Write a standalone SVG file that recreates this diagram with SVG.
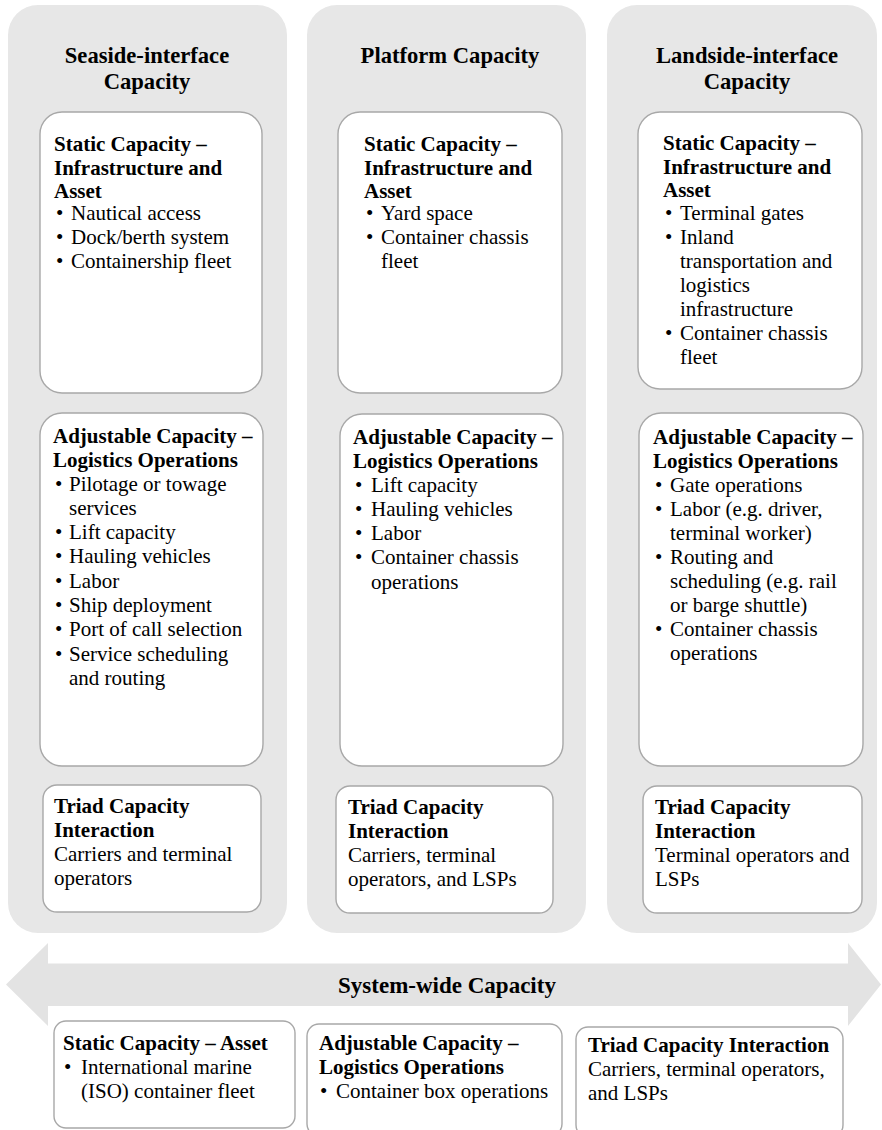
<svg xmlns="http://www.w3.org/2000/svg" width="882" height="1130" viewBox="0 0 882 1130">
<style>
.col{fill:#e7e7e7;}
.box{fill:#ffffff;stroke:#a8a8a8;stroke-width:1.4;}
.arrow{fill:#e3e3e3;}
text{font-family:"Liberation Serif","Times New Roman",serif;fill:#000;}
.h{font-size:22.6px;font-weight:bold;text-anchor:middle;}
.sw{font-size:23px;font-weight:bold;text-anchor:middle;}
.b{font-size:21px;font-weight:bold;}
.t{font-size:21px;}
</style>
<rect width="882" height="1130" fill="#ffffff"/>

<g id="col-seaside">
<rect class="col" x="8" y="5" width="279" height="928" rx="30"/>
<text class="h" x="147" y="63">Seaside-interface</text>
<text class="h" x="147" y="89">Capacity</text>
</g>
<g id="col-platform">
<rect class="col" x="307" y="5" width="279" height="928" rx="30"/>
<text class="h" x="450" y="63">Platform Capacity</text>
</g>
<g id="col-landside">
<rect class="col" x="607" y="5" width="270" height="928" rx="30"/>
<text class="h" x="747" y="63">Landside-interface</text>
<text class="h" x="747" y="89">Capacity</text>
</g>

<g id="sea-static">
<rect class="box" x="40" y="112" width="222" height="281" rx="22"/>
<text class="b" x="54" y="151">Static Capacity –</text>
<text class="b" x="54" y="174.5">Infrastructure and</text>
<text class="b" x="54" y="197.5">Asset</text>
<text class="t" x="56" y="220">•</text><text class="t" x="71" y="220">Nautical access</text>
<text class="t" x="56" y="244">•</text><text class="t" x="71" y="244">Dock/berth system</text>
<text class="t" x="56" y="268">•</text><text class="t" x="71" y="268">Containership fleet</text>
</g>
<g id="plat-static">
<rect class="box" x="338" y="112" width="224" height="281" rx="22"/>
<text class="b" x="364" y="151">Static Capacity –</text>
<text class="b" x="364" y="174.5">Infrastructure and</text>
<text class="b" x="364" y="197.5">Asset</text>
<text class="t" x="366" y="220">•</text><text class="t" x="381" y="220">Yard space</text>
<text class="t" x="366" y="244">•</text><text class="t" x="381" y="244">Container chassis</text>
<text class="t" x="381" y="268">fleet</text>
</g>
<g id="land-static">
<rect class="box" x="638" y="112" width="224" height="277" rx="22"/>
<text class="b" x="663" y="150">Static Capacity –</text>
<text class="b" x="663" y="173.5">Infrastructure and</text>
<text class="b" x="663" y="196.5">Asset</text>
<text class="t" x="665" y="220">•</text><text class="t" x="680" y="220">Terminal gates</text>
<text class="t" x="665" y="244">•</text><text class="t" x="680" y="244">Inland</text>
<text class="t" x="680" y="268">transportation and</text>
<text class="t" x="680" y="292">logistics</text>
<text class="t" x="680" y="316">infrastructure</text>
<text class="t" x="665" y="340">•</text><text class="t" x="680" y="340">Container chassis</text>
<text class="t" x="680" y="364">fleet</text>
</g>

<g id="sea-adjustable">
<rect class="box" x="40" y="413" width="223" height="353" rx="22"/>
<text class="b" x="53" y="443">Adjustable Capacity –</text>
<text class="b" x="53" y="466.5">Logistics Operations</text>
<text class="t" x="55" y="490.5">•</text><text class="t" x="69" y="490.5">Pilotage or towage</text>
<text class="t" x="69" y="514.8">services</text>
<text class="t" x="55" y="539.1">•</text><text class="t" x="69" y="539.1">Lift capacity</text>
<text class="t" x="55" y="563.4">•</text><text class="t" x="69" y="563.4">Hauling vehicles</text>
<text class="t" x="55" y="587.7">•</text><text class="t" x="69" y="587.7">Labor</text>
<text class="t" x="55" y="612">•</text><text class="t" x="69" y="612">Ship deployment</text>
<text class="t" x="55" y="636.3">•</text><text class="t" x="69" y="636.3">Port of call selection</text>
<text class="t" x="55" y="660.6">•</text><text class="t" x="69" y="660.6">Service scheduling</text>
<text class="t" x="69" y="684.9">and routing</text>
</g>
<g id="plat-adjustable">
<rect class="box" x="340" y="414" width="223" height="352" rx="22"/>
<text class="b" x="353" y="444">Adjustable Capacity –</text>
<text class="b" x="353" y="467.5">Logistics Operations</text>
<text class="t" x="355" y="491.5">•</text><text class="t" x="371" y="491.5">Lift capacity</text>
<text class="t" x="355" y="515.8">•</text><text class="t" x="371" y="515.8">Hauling vehicles</text>
<text class="t" x="355" y="540.1">•</text><text class="t" x="371" y="540.1">Labor</text>
<text class="t" x="355" y="564.4">•</text><text class="t" x="371" y="564.4">Container chassis</text>
<text class="t" x="371" y="588.7">operations</text>
</g>
<g id="land-adjustable">
<rect class="box" x="639" y="413" width="224" height="353" rx="22"/>
<text class="b" x="653" y="444">Adjustable Capacity –</text>
<text class="b" x="653" y="467.5">Logistics Operations</text>
<text class="t" x="655" y="491.5">•</text><text class="t" x="670" y="491.5">Gate operations</text>
<text class="t" x="655" y="515.5">•</text><text class="t" x="670" y="515.5">Labor (e.g. driver,</text>
<text class="t" x="670" y="539.5">terminal worker)</text>
<text class="t" x="655" y="563.5">•</text><text class="t" x="670" y="563.5">Routing and</text>
<text class="t" x="670" y="587.5">scheduling (e.g. rail</text>
<text class="t" x="670" y="611.5">or barge shuttle)</text>
<text class="t" x="655" y="635.5">•</text><text class="t" x="670" y="635.5">Container chassis</text>
<text class="t" x="670" y="659.5">operations</text>
</g>

<g id="sea-triad">
<rect class="box" x="43" y="785" width="218" height="127" rx="14"/>
<text class="b" x="54" y="813">Triad Capacity</text>
<text class="b" x="54" y="836.5">Interaction</text>
<text class="t" x="54" y="861">Carriers and terminal</text>
<text class="t" x="54" y="885">operators</text>
</g>
<g id="plat-triad">
<rect class="box" x="336" y="786" width="217" height="127" rx="14"/>
<text class="b" x="348" y="814">Triad Capacity</text>
<text class="b" x="348" y="837.5">Interaction</text>
<text class="t" x="348" y="862">Carriers, terminal</text>
<text class="t" x="348" y="886">operators, and LSPs</text>
</g>
<g id="land-triad">
<rect class="box" x="643" y="786" width="219" height="127" rx="14"/>
<text class="b" x="655" y="814">Triad Capacity</text>
<text class="b" x="655" y="837.5">Interaction</text>
<text class="t" x="655" y="862">Terminal operators and</text>
<text class="t" x="655" y="886">LSPs</text>
</g>

<g id="system-wide">
<polygon class="arrow" points="6,984.5 48,943 48,963.5 848,963.5 848,943 881,984.5 848,1026 848,1006 48,1006 48,1026"/>
<text class="sw" x="447" y="993">System-wide Capacity</text>
</g>

<g id="sys-static">
<rect class="box" x="54" y="1021" width="241" height="107" rx="12"/>
<text class="b" x="63" y="1050">Static Capacity – Asset</text>
<text class="t" x="64" y="1074">•</text><text class="t" x="81" y="1074">International marine</text>
<text class="t" x="81" y="1098">(ISO) container fleet</text>
</g>
<g id="sys-adjustable">
<rect class="box" x="307" y="1024" width="255" height="112" rx="12"/>
<text class="b" x="319" y="1050">Adjustable Capacity –</text>
<text class="b" x="319" y="1074">Logistics Operations</text>
<text class="t" x="320" y="1098">•</text><text class="t" x="336" y="1098">Container box operations</text>
</g>
<g id="sys-triad">
<rect class="box" x="576" y="1027" width="267" height="110" rx="12"/>
<text class="b" x="588" y="1052">Triad Capacity Interaction</text>
<text class="t" x="588" y="1076">Carriers, terminal operators,</text>
<text class="t" x="588" y="1100">and LSPs</text>
</g>

<g id="connectors"></g>
</svg>
